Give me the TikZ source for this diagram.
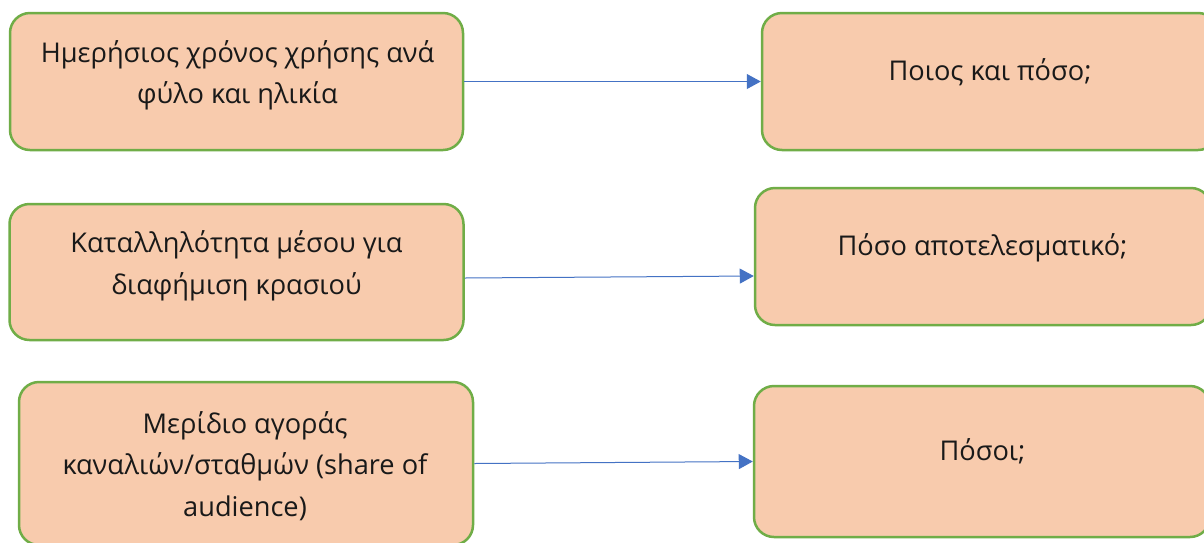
\documentclass[tikz,border=0pt]{standalone}
\usepackage{fontspec}
\setmainfont{Open Sans}
\usetikzlibrary{arrows.meta}
\definecolor{boxfill}{HTML}{F8CBAD}
\definecolor{boxline}{HTML}{70AD47}
\definecolor{arrowblue}{HTML}{4472C4}
\begin{document}
\begin{tikzpicture}[x=1pt,y=-1pt,
  box/.style={draw=boxline, fill=boxfill, line width=2.5pt, rounded corners=20pt, inner sep=0pt},
  txt/.style={anchor=base, inner sep=0pt, font=\fontsize{27.2}{42}\selectfont, text=black!90},
  conn/.style={draw=arrowblue, line width=1pt, -{Triangle[length=14pt,width=15pt]}}]
\useasboundingbox (0,0) rectangle (1204,542);
\fill[white] (0,0) rectangle (1204,542);
% boxes
\node[box, minimum width=453pt, minimum height=137pt] (L1) at (236.5,81.5) {};
\node[box, minimum width=456pt, minimum height=137pt] (R1) at (990,81.5) {};
\node[box, minimum width=454pt, minimum height=136pt] (L2) at (236.5,272) {};
\node[box, minimum width=456pt, minimum height=137pt] (R2) at (983,256.5) {};
\node[box, minimum width=454pt, minimum height=163pt] (L3) at (246,463.5) {};
\node[box, minimum width=456pt, minimum height=151pt] (R3) at (982,461.5) {};
% texts
\node[txt] (t1a) at (237.5,62) {Ημερήσιος χρόνος χρήσης ανά};
\node[txt] (t1b) at (237.5,103.5) {φύλο και ηλικία};
\node[txt] (t2a) at (236.5,252) {Καταλληλότητα μέσου για};
\node[txt] (t2b) at (236.5,294.5) {διαφήμιση κρασιού};
\node[txt] (t3a) at (245,433) {Μερίδιο αγοράς};
\node[txt] (t3b) at (245,474) {καναλιών/σταθμών (share of};
\node[txt] (t3c) at (245,516.5) {audience)};
\node[txt] (t4) at (990,80) {Ποιος και πόσο;};
\node[txt] (t5) at (982.5,255) {Πόσο αποτελεσματικό;};
\node[txt] (t6) at (982.5,460.5) {Πόσοι;};
% connectors
\draw[conn] (L1.east) -- (R1.west);
\draw[conn] ([yshift=-6pt]L2.east) -- ([yshift=-19.5pt]R2.west);
\draw[conn] (L3.east) -- (R3.west);
\end{tikzpicture}
\end{document}
